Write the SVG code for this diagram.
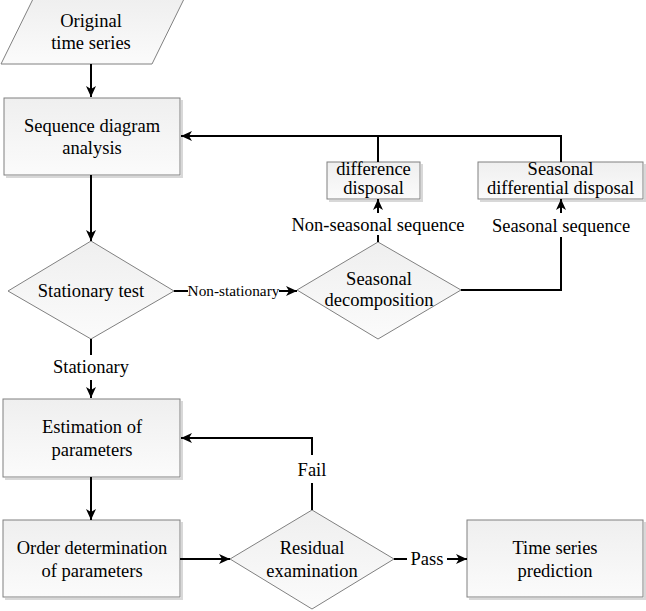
<svg xmlns="http://www.w3.org/2000/svg" width="646" height="611" viewBox="0 0 646 611">
<defs>
<linearGradient id="g" x1="0" y1="0" x2="0" y2="1">
<stop offset="0" stop-color="#efefef"/>
<stop offset="1" stop-color="#fbfbfb"/>
</linearGradient>
<marker id="a" markerUnits="userSpaceOnUse" markerWidth="12" markerHeight="10" refX="11" refY="5" orient="auto">
<path d="M0,0 L11,5 L0,10 L3,5 Z" fill="#000"/>
</marker>
<style>
.n{fill:url(#g);stroke:#808080;stroke-width:1}
.s{fill:none;stroke:#d8d8d8;stroke-width:2}
.c{fill:none;stroke:#000;stroke-width:2}
text{font-family:'Liberation Serif','Times New Roman',serif;font-size:18.5px;fill:#000;text-anchor:middle}
.sm{font-size:15.3px}
</style>
</defs>
<rect width="646" height="611" fill="#fff"/>

<g id="original">
<polygon class="n" points="33,-1 184,-1 152,64 1,64"/>
<text x="91" y="27">Original</text>
<text x="91" y="49">time series</text>
</g>

<g id="sequence">
<path class="s" d="M6,177 H182 V100"/>
<rect class="n" x="4" y="98" width="176" height="77"/>
<text x="92" y="132">Sequence diagram</text>
<text x="92" y="154">analysis</text>
</g>

<g id="stationary">
<polygon class="n" points="91,241 174,291 91,339 8,291"/>
<text x="91" y="297">Stationary test</text>
</g>

<g id="seasonal-decomp">
<polygon class="n" points="378,242 461,290 378,339 297,290"/>
<text x="379" y="285">Seasonal</text>
<text x="379" y="306">decomposition</text>
</g>

<g id="difference">
<path class="s" d="M329,201 H422 V164"/>
<rect class="n" x="327" y="162" width="93" height="37"/>
<text x="373.5" y="175">difference</text>
<text x="373.5" y="194">disposal</text>
</g>

<g id="seasonal-diff">
<path class="s" d="M480,201 H645 V164"/>
<rect class="n" x="478" y="162" width="165" height="37"/>
<text x="560.5" y="175">Seasonal</text>
<text x="560.5" y="194">differential disposal</text>
</g>

<g id="estimation">
<path class="s" d="M5,479 H182 V401"/>
<rect class="n" x="3" y="399" width="177" height="78"/>
<text x="92" y="433">Estimation of</text>
<text x="92" y="456">parameters</text>
</g>

<g id="order">
<path class="s" d="M5,599 H182 V522"/>
<rect class="n" x="3" y="520" width="177" height="77"/>
<text x="92" y="554">Order determination</text>
<text x="92" y="577">of parameters</text>
</g>

<g id="residual">
<polygon class="n" points="312,510 394,559 312,609 230,559"/>
<text x="312" y="554">Residual</text>
<text x="312" y="577">examination</text>
</g>

<g id="prediction">
<path class="s" d="M469,599 H645 V522"/>
<rect class="n" x="467" y="520" width="176" height="77"/>
<text x="555" y="554">Time series</text>
<text x="555" y="577">prediction</text>
</g>

<g id="connectors">
<path class="c" d="M91,64 V97" marker-end="url(#a)"/>
<path class="c" d="M91,175 V241" marker-end="url(#a)"/>
<path class="c" d="M91,339 V355"/>
<path class="c" d="M91,380 V398" marker-end="url(#a)"/>
<path class="c" d="M174,291 H188"/>
<path class="c" d="M279,291 H297" marker-end="url(#a)"/>
<path class="c" d="M378,242 V235"/>
<path class="c" d="M378,213 V199" marker-end="url(#a)"/>
<path class="c" d="M461,290 H561 V237"/>
<path class="c" d="M561,213 V199" marker-end="url(#a)"/>
<path class="c" d="M378,162 V136"/>
<path class="c" d="M561,162 V136 H181" marker-end="url(#a)"/>
<path class="c" d="M91,477 V520" marker-end="url(#a)"/>
<path class="c" d="M180,559 H230" marker-end="url(#a)"/>
<path class="c" d="M312,510 V483"/>
<path class="c" d="M312,455 V438 H181" marker-end="url(#a)"/>
<path class="c" d="M394,559 H407"/>
<path class="c" d="M447,559 H467" marker-end="url(#a)"/>
<text class="sm" x="233.5" y="296">Non-stationary</text>
<text x="378" y="231">Non-seasonal sequence</text>
<text x="561" y="232">Seasonal sequence</text>
<text x="91" y="373">Stationary</text>
<text x="312" y="476">Fail</text>
<text x="427" y="565">Pass</text>
</g>
</svg>
